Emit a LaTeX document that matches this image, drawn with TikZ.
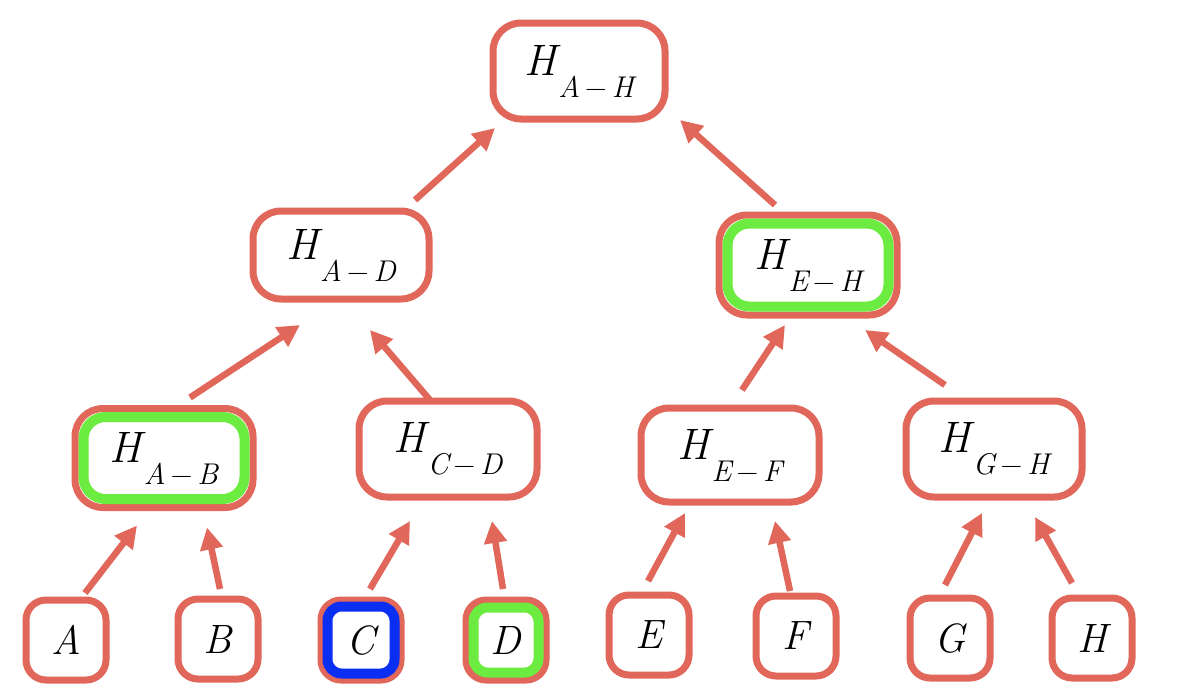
\documentclass[tikz,border=0pt]{standalone}
\usepackage{fontspec}
\usetikzlibrary{arrows.meta,calc}
\definecolor{salmon}{HTML}{E0675A}
\definecolor{lgreen}{HTML}{6CEB40}
\definecolor{dblue}{HTML}{0A2EF2}
\newcommand\hlab[2]{\fontsize{44}{50}\selectfont\itshape\addfontfeature{FakeBold=1.5}H\hspace{2pt}\raisebox{-22pt}{\fontsize{30}{34}\selectfont\addfontfeature{FakeBold=1.5}#1\upshape\addfontfeature{FakeBold=1.5}\,−\,\itshape\addfontfeature{FakeBold=1.5}#2}}
\newcommand\leaflab[1]{\fontsize{41}{46}\selectfont\itshape\addfontfeature{FakeBold=1.5}#1}
\begin{document}
\begin{tikzpicture}[x=1pt,y=-1pt,
  inner/.style={draw=salmon,line width=7pt,rounded corners=28pt,fill=white,inner sep=0pt,outer sep=0pt,minimum width=175pt,minimum height=95pt},
  leaf/.style={draw=salmon,line width=7pt,rounded corners=20pt,fill=white,inner sep=0pt,outer sep=0pt,minimum width=80pt,minimum height=80pt},
  arr/.style={draw=salmon,line width=6.5pt,-{Triangle[length=22pt,width=22pt]}},
  hl/.style={line width=10pt,rounded corners=22pt}]
\useasboundingbox (0,0) rectangle (1182,688);
% internal nodes
\node[inner,minimum width=172pt,minimum height=96pt] (AH) at (579,71) {\hlab{A}{H}};
\node[inner,minimum width=176pt,minimum height=88pt] (AD) at (341,255) {\hlab{A}{D}};
\node[inner,minimum width=178pt,minimum height=100pt] (EH) at (808,265) {\hlab{E}{H}};
\node[inner,minimum width=178pt,minimum height=99pt] (AB) at (164,458) {\hlab{A}{B}};
\node[inner,minimum width=178pt,minimum height=96pt] (CD) at (448,449) {\hlab{C}{D}};
\node[inner,minimum width=178pt,minimum height=94pt] (EF) at (730,455) {\hlab{E}{F}};
\node[inner,minimum width=176pt,minimum height=96pt] (GH) at (994,449) {\hlab{G}{H}};
% leaves
\node[leaf] (A) at (66,640) {\leaflab{A}};
\node[leaf] (B) at (218,639) {\leaflab{B}};
\node[leaf] (C) at (361,640) {\leaflab{C}};
\node[leaf] (D) at (506,640) {\leaflab{D}};
\node[leaf] (E) at (649,635) {\leaflab{E}};
\node[leaf] (F) at (796,636) {\leaflab{F}};
\node[leaf] (G) at (950,638) {\leaflab{G}};
\node[leaf] (H) at (1092,638) {\leaflab{H}};
% highlights
\draw[hl,lgreen] ([shift={(8.5,8.5)}]AB.north west) rectangle ([shift={(-8.5,-8.5)}]AB.south east);
\draw[hl,lgreen] ([shift={(8.5,8.5)}]EH.north west) rectangle ([shift={(-8.5,-8.5)}]EH.south east);
\draw[hl,lgreen,rounded corners=14pt] ([shift={(7.5,7.5)}]D.north west) rectangle ([shift={(-7.5,-7.5)}]D.south east);
\draw[hl,dblue,rounded corners=14pt] ([shift={(6.5,6.5)}]C.north west) rectangle ([shift={(-6.5,-6.5)}]C.south east);
% arrows
\draw[arr] ([shift={(19,-7)}]A.north) -- ([shift={(-27,18)}]AB.south);
\draw[arr] ([shift={(2,-10)}]B.north) -- ([shift={(43,20)}]AB.south);
\draw[arr] ([shift={(9,-11)}]C.north) -- ([shift={(-38,24)}]CD.south);
\draw[arr] ([shift={(-3,-11)}]D.north) -- ([shift={(44,24)}]CD.south);
\draw[arr] ([shift={(-1,-14)}]E.north) -- ([shift={(-45,11)}]EF.south);
\draw[arr] ([shift={(-6,-5)}]F.north) -- ([shift={(45,19)}]EF.south);
\draw[arr] ([shift={(-5,-13)}]G.north) -- ([shift={(-12,16)}]GH.south);
\draw[arr] ([shift={(-20,-15)}]H.north) -- ([shift={(41,20)}]GH.south);
\draw[arr] ([shift={(26,-11)}]AB.north) -- ([shift={(-41,26)}]AD.south);
\draw[arr] ([shift={(-18,-1)}]CD.north) -- ([shift={(29,31)}]AD.south);
\draw[arr] ([shift={(12,-18)}]EF.north) -- ([shift={(-23,10)}]EH.south);
\draw[arr] ([shift={(-49,-16)}]GH.north) -- ([shift={(57,15)}]EH.south);
\draw[arr] ([shift={(74,-11)}]AD.north) -- ([shift={(-84,9)}]AH.south);
\draw[arr] ([shift={(-33,-10)}]EH.north) -- ([shift={(101,1)}]AH.south);
\end{tikzpicture}
\end{document}
